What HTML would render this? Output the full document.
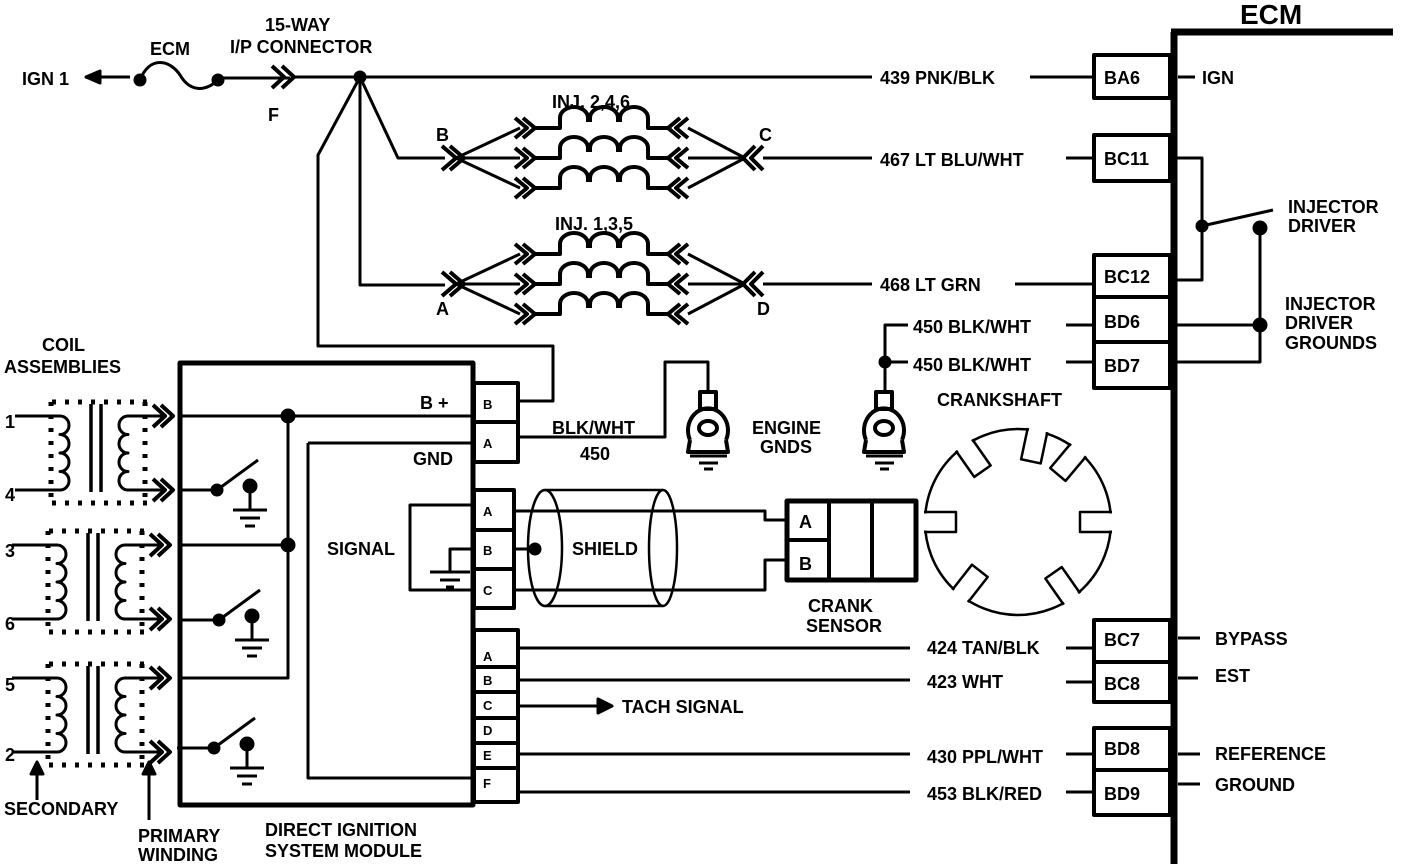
<!DOCTYPE html>
<html><head><meta charset="utf-8"><style>
html,body{margin:0;padding:0;background:#fff;}
svg{display:block;}
text{font-family:"Liberation Sans",sans-serif;font-weight:bold;fill:#000;}
</style></head><body>
<svg width="1408" height="864" viewBox="0 0 1408 864" xmlns="http://www.w3.org/2000/svg">
<g fill="none" stroke="#000" stroke-width="3" stroke-linejoin="round">

<path d="M85,77 H130"/>
<path d="M86,77 l14,-6 v12 z" fill="#000"/>
<circle cx="140" cy="80" r="5" fill="#000"/>
<path d="M140,80 C150,55 170,60 180,75 C190,92 205,92 218,80"/>
<circle cx="218" cy="80" r="5" fill="#000"/>
<path d="M218,78 H290"/>
<path d="M272,66 l12,11 l-12,11 M282,66 l12,11 l-12,11" stroke-width="4"/>
<path d="M294,77 H872"/>
<circle cx="360" cy="77" r="5" fill="#000"/>
<path d="M360,77 L318,155 V346 H553 V401 H518"/>
<path d="M360,77 V285 H445"/>
<path d="M360,77 L398,158 H445"/>
<path d="M1030,77 H1092"/>

<g id="inj">
<path d="M442,146 l14,12 l-14,12 M450,146 l14,12 l-14,12" stroke-width="4"/>
<path d="M456,158 L520,128 M456,158 H520 M456,158 L520,188"/>
<path d="M515,118 l12,10 l-12,10 M523,118 l12,10 l-12,10 M515,148 l12,10 l-12,10 M523,148 l12,10 l-12,10 M515,178 l12,10 l-12,10 M523,178 l12,10 l-12,10" stroke-width="4"/>
<path d="M535,128 H560 V118 a14,11 0 0 1 28,0 v4 M590,122 V118 a14,11 0 0 1 28,0 v4 M620,122 V118 a14,11 0 0 1 28,0 V128 H668" stroke-width="4"/>
<path d="M535,158 H560 V148 a14,11 0 0 1 28,0 v4 M590,152 V148 a14,11 0 0 1 28,0 v4 M620,152 V148 a14,11 0 0 1 28,0 V158 H668" stroke-width="4"/>
<path d="M535,188 H560 V178 a14,11 0 0 1 28,0 v4 M590,182 V178 a14,11 0 0 1 28,0 v4 M620,182 V178 a14,11 0 0 1 28,0 V188 H668" stroke-width="4"/>
<path d="M688,118 l-12,10 l12,10 M680,118 l-12,10 l12,10 M688,148 l-12,10 l12,10 M680,148 l-12,10 l12,10 M688,178 l-12,10 l12,10 M680,178 l-12,10 l12,10" stroke-width="4"/>
<path d="M688,128 L745,158 M688,158 H745 M688,188 L745,158"/>
<path d="M755,146 l-12,12 l12,12 M763,146 l-12,12 l12,12" stroke-width="4"/>
</g>
<path d="M763,158 H872"/>
<use href="#inj" transform="translate(0,126)"/>
<path d="M763,284 H872"/>
<path d="M1066,158 H1092 M1015,284 H1092"/>

<path d="M1174,32 V864 M1171,32 H1393" stroke-width="7"/>
<g stroke-width="4">
<rect x="1094" y="55" width="76" height="43"/>
<rect x="1094" y="135" width="76" height="46"/>
<rect x="1094" y="255" width="76" height="42"/>
<rect x="1094" y="297" width="76" height="45"/>
<rect x="1094" y="342" width="76" height="46"/>
<rect x="1094" y="620" width="76" height="42"/>
<rect x="1094" y="662" width="76" height="40"/>
<rect x="1094" y="728" width="76" height="42"/>
<rect x="1094" y="770" width="76" height="45"/>
</g>
<path d="M1178,77 H1195 M1178,678 H1198 M1178,754 H1200 M1178,784 H1200 M1178,638 H1200"/>
<path d="M1176,158 H1202 V280 H1176"/>
<path d="M1202,226 L1273,210"/>
<circle cx="1202" cy="226" r="5" fill="#000"/>
<circle cx="1260" cy="228" r="6" fill="#000"/>
<path d="M1260,228 V362 H1176 M1176,325 H1260"/>
<circle cx="1260" cy="325" r="6" fill="#000"/>

<path d="M1066,325 H1092 M1066,362 H1092 M1066,648 H1092 M1066,682 H1092 M1066,754 H1092 M1066,792 H1092"/>
<path d="M908,325 H885 V392 M885,362 H908"/>
<circle cx="885" cy="362" r="5" fill="#000"/>

<path d="M518,437 H665 V362 H708 V392"/>
<g id="eg">
<rect x="700" y="392" width="16" height="17" stroke-width="4"/>
<path d="M690,440 A20,22 0 1 1 726,440" stroke-width="4"/>
<path d="M690,440 L688,452 H728 L726,440" stroke-width="4"/>
<ellipse cx="708" cy="428" rx="9" ry="7" stroke-width="4"/>
<path d="M690,456 H727 M699,463 H718 M704,469 H713"/>
</g>
<use href="#eg" transform="translate(176,0)"/>

<rect x="180" y="363" width="293" height="442" stroke-width="5"/>
<g stroke-width="4">
<rect x="474" y="383" width="44" height="39"/>
<rect x="474" y="422" width="44" height="40"/>
<rect x="474" y="490" width="40" height="40"/>
<rect x="474" y="530" width="40" height="39"/>
<rect x="474" y="569" width="40" height="39"/>
<rect x="474" y="630" width="44" height="37"/>
<rect x="474" y="667" width="44" height="25"/>
<rect x="474" y="692" width="44" height="26"/>
<rect x="474" y="718" width="44" height="25"/>
<rect x="474" y="743" width="44" height="25"/>
<rect x="474" y="768" width="44" height="34"/>
</g>
<path d="M308,443 H474 M308,443 V778 H474"/>
<path d="M180,416 H474 M288,416 V678 H180 M180,545 H288"/>
<circle cx="288" cy="416" r="6" fill="#000"/>
<circle cx="288" cy="545" r="6" fill="#000"/>
<g id="sw">
<path d="M180,490 H217 L258,460"/>
<circle cx="217" cy="490" r="5" fill="#000"/>
<circle cx="250" cy="486" r="6" fill="#000"/>
<path d="M250,486 V510 M233,510 H267 M240,518 H260 M245,526 H255"/>
</g>
<use href="#sw" transform="translate(2,130)"/>
<use href="#sw" transform="translate(-3,258)"/>

<path d="M474,505 H410 V590 H474 M474,549 H450 V572 M430,572 H470 M440,580 H460 M446,587 H454"/>
<path d="M514,511 H765 V520 H787 M514,549 H535 M514,590 H765 V560 H787"/>
<circle cx="535" cy="549" r="5" fill="#000"/>
<g stroke-width="2.5">
<ellipse cx="545" cy="548" rx="17" ry="58"/>
<ellipse cx="663" cy="548" rx="14" ry="58"/>
<path d="M545,490 H663 M545,606 H663"/>
</g>
<rect x="787" y="501" width="129" height="79" stroke-width="5"/>
<path d="M787,540 H829 M829,501 V580 M872,501 V580" stroke-width="4"/>
<circle cx="1018" cy="522" r="93" stroke-width="2.5"/>
<g id="n">
<rect x="1081" y="513.5" width="34" height="17" fill="#fff" stroke="none"/>
<path d="M1112,512 H1080 V532 H1112" stroke-width="2.5"/>
</g>
<use href="#n" transform="rotate(180 1018 522)"/>
<use href="#n" transform="rotate(-125 1018 522)"/>
<use href="#n" transform="rotate(-78 1018 522)"/>
<use href="#n" transform="rotate(-50 1018 522)"/>
<use href="#n" transform="rotate(55 1018 522)"/>
<use href="#n" transform="rotate(128 1018 522)"/>

<path d="M518,648 H910 M518,680 H910 M518,754 H910 M518,792 H910"/>
<path d="M518,706 H600"/>
<path d="M612,706 l-14,-7 v14 z" fill="#000"/>

<g id="coil">
<path d="M15,416 H60 a9,9.25 0 0 1 0,18.5 a9,9.25 0 0 1 0,18.5 a9,9.25 0 0 1 0,18.5 a9,9.25 0 0 1 0,18.5 H15" stroke-width="3"/>
<path d="M91,404 V492 M101,404 V492" stroke-width="3.5"/>
<path d="M165,416 H128 a9,9.25 0 0 0 0,18.5 a9,9.25 0 0 0 0,18.5 a9,9.25 0 0 0 0,18.5 a9,9.25 0 0 0 0,18.5 H165" stroke-width="3"/>
<path d="M52,402 H148 M52,503 H148 M51,402 V503 M145,402 V503" stroke-width="5" stroke-dasharray="4,9"/>
<path d="M153,405 l12,11 l-12,11 M161,405 l12,11 l-12,11 M153,479 l12,11 l-12,11 M161,479 l12,11 l-12,11" stroke-width="4"/>
</g>
<use href="#coil" transform="translate(-3,129)"/>
<use href="#coil" transform="translate(-3,262)"/>
<path d="M37,770 V800"/>
<path d="M37,762 l-6,12 h12 z" fill="#000"/>
<path d="M149,770 V820"/>
<path d="M149,762 l-6,12 h12 z" fill="#000"/>
</g>

<g font-size="18">
<text x="1240" y="24" font-size="28">ECM</text>
<text x="22" y="85">IGN 1</text>
<text x="150" y="55">ECM</text>
<text x="265" y="31">15-WAY</text>
<text x="230" y="53">I/P CONNECTOR</text>
<text x="268" y="121">F</text>
<text x="552" y="108">INJ. 2,4,6</text>
<text x="555" y="230">INJ. 1,3,5</text>
<text x="436" y="141">B</text>
<text x="436" y="315">A</text>
<text x="759" y="141">C</text>
<text x="757" y="315">D</text>
<text x="880" y="84">439 PNK/BLK</text>
<text x="880" y="166">467 LT BLU/WHT</text>
<text x="880" y="291">468 LT GRN</text>
<text x="913" y="333">450 BLK/WHT</text>
<text x="913" y="371">450 BLK/WHT</text>
<text x="937" y="406">CRANKSHAFT</text>
<text x="927" y="654">424 TAN/BLK</text>
<text x="927" y="688">423 WHT</text>
<text x="927" y="763">430 PPL/WHT</text>
<text x="927" y="800">453 BLK/RED</text>
<text x="1104" y="84">BA6</text>
<text x="1104" y="165">BC11</text>
<text x="1104" y="283">BC12</text>
<text x="1104" y="328">BD6</text>
<text x="1104" y="372">BD7</text>
<text x="1104" y="646">BC7</text>
<text x="1104" y="690">BC8</text>
<text x="1104" y="755">BD8</text>
<text x="1104" y="800">BD9</text>
<text x="1202" y="84">IGN</text>
<text x="1288" y="213">INJECTOR</text>
<text x="1288" y="232">DRIVER</text>
<text x="1285" y="310">INJECTOR</text>
<text x="1285" y="329">DRIVER</text>
<text x="1285" y="349">GROUNDS</text>
<text x="1215" y="645">BYPASS</text>
<text x="1215" y="682">EST</text>
<text x="1215" y="760">REFERENCE</text>
<text x="1215" y="791">GROUND</text>
<text x="42" y="351">COIL</text>
<text x="4" y="373">ASSEMBLIES</text>
<text x="5" y="428">1</text>
<text x="5" y="501">4</text>
<text x="5" y="557">3</text>
<text x="5" y="630">6</text>
<text x="5" y="691">5</text>
<text x="5" y="761">2</text>
<text x="4" y="815">SECONDARY</text>
<text x="138" y="842">PRIMARY</text>
<text x="138" y="861">WINDING</text>
<text x="265" y="836">DIRECT IGNITION</text>
<text x="265" y="857">SYSTEM MODULE</text>
<text x="420" y="409">B +</text>
<text x="413" y="465">GND</text>
<text x="327" y="555">SIGNAL</text>
<text x="572" y="555">SHIELD</text>
<text x="552" y="434">BLK/WHT</text>
<text x="580" y="460">450</text>
<text x="752" y="434">ENGINE</text>
<text x="760" y="453">GNDS</text>
<text x="808" y="612">CRANK</text>
<text x="806" y="632">SENSOR</text>
<text x="622" y="713">TACH SIGNAL</text>
<text x="799" y="528">A</text>
<text x="799" y="570">B</text>
</g>
<g font-size="13">
<text x="483" y="409">B</text><text x="483" y="448">A</text>
<text x="483" y="516">A</text><text x="483" y="555">B</text><text x="483" y="595">C</text>
<text x="483" y="661">A</text><text x="483" y="685">B</text><text x="483" y="710">C</text>
<text x="483" y="735">D</text><text x="483" y="760">E</text><text x="483" y="788">F</text>
</g>
</svg>
</body></html>
